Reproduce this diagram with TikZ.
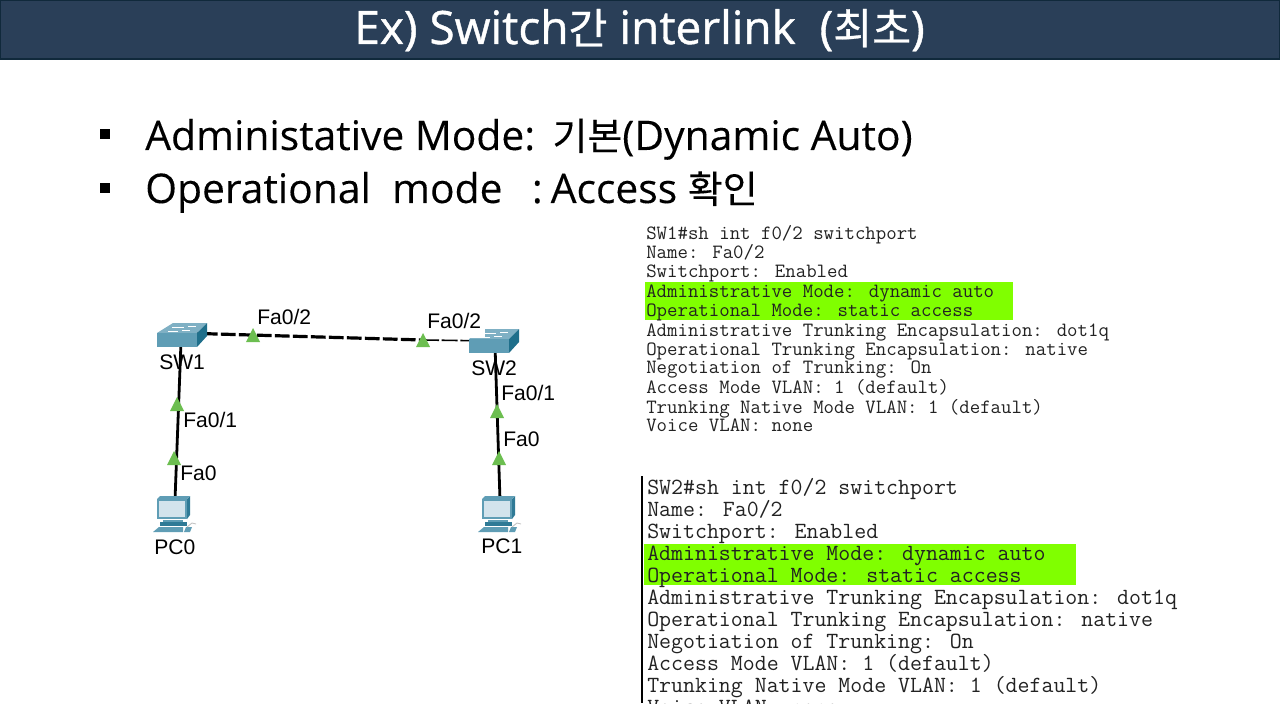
\documentclass[tikz,border=0pt]{standalone}
\usepackage{fontspec}
\setmainfont{Open Sans}
\newfontfamily\krfont[Scale=0.93,FakeBold=0.2]{Noto Sans CJK KR}
\newfontfamily\krtitle[Scale=0.92,FakeBold=0.6]{Noto Sans CJK KR}
\newfontfamily\headfont[FakeBold=0.15]{Open Sans}
\newfontfamily\titlefont[FakeBold=0.9]{Open Sans}
\newfontfamily\labelfont{Liberation Sans}
\definecolor{barblue}{HTML}{2A3F58}
\definecolor{barline}{HTML}{10293B}
\definecolor{hilite}{HTML}{80FF00}
\definecolor{porttri}{HTML}{6CBE50}
\definecolor{swtop}{HTML}{7FB0C4}
\definecolor{swfront}{HTML}{5F9DB5}
\definecolor{swside}{HTML}{1F6F8B}
\definecolor{pcbody}{HTML}{5F9DB5}
\definecolor{pcdark}{HTML}{2F7A96}
\definecolor{pcscreen}{HTML}{D3E3EC}
\definecolor{monotext}{HTML}{222222}
\tikzset{
  x=0.75pt,y=-0.75pt,
  port/.style={fill=porttri,draw=none},
  portlabel/.style={anchor=base west,inner sep=0pt,font=\labelfont\fontsize{15.8}{15.8}\selectfont,text=black},
  anchorbox/.style={inner sep=0pt,minimum width=4pt,minimum height=4pt},
  cable/.style={black,line width=2.1pt},
  monoa/.style={anchor=base west,inner sep=0pt,font=\ttfamily\fontsize{15.2}{15.2}\selectfont,text=monotext},
  monob/.style={anchor=base west,inner sep=0pt,font=\ttfamily\fontsize{17.4}{17.4}\selectfont,text=monotext},
  bullettext/.style={anchor=base west,inner sep=0pt,font=\headfont\fontsize{30.6}{30.6}\selectfont,text=black},
}
\newcommand{\porttri}[2]{\fill[port] (#1-7,#2+6) -- (#1,#2-8) -- (#1+7,#2+6) -- cycle;}
\newcommand{\swicon}[2]{%
  \fill[swtop] (#1-25,#2-3) -- (#1-9,#2-13) -- (#1+25,#2-13) -- (#1+15,#2-3) -- cycle;
  \fill[swfront] (#1-25,#2-3) rectangle (#1+15,#2+11);
  \fill[swside] (#1+15,#2-3) -- (#1+25,#2-13) -- (#1+25,#2+0) -- (#1+15,#2+11) -- cycle;
  \draw[white,line width=0.5pt] (#1-10,#2-9) -- (#1+2,#2-9) (#1+6,#2-10) -- (#1+14,#2-10) (#1-14,#2-5) -- (#1-4,#2-5) (#1+0,#2-6) -- (#1+8,#2-6);
}
\newcommand{\pcicon}[2]{%
  \fill[pcdark] (#1+14,#2-15) -- (#1+17,#2-18) -- (#1+17,#2+1) -- (#1+14,#2+5) -- cycle;
  \fill[pcbody] (#1-16,#2-15) -- (#1-13,#2-18) -- (#1+17,#2-18) -- (#1+14,#2-15) -- cycle;
  \fill[pcbody] (#1-16,#2-15) rectangle (#1+14,#2+5);
  \fill[pcscreen] (#1-14,#2-13) rectangle (#1+12,#2+3);
  \fill[pcbody] (#1-10,#2+6) rectangle (#1+10,#2+8);
  \fill[pcdark] (#1-13,#2+8) rectangle (#1+14,#2+12);
  \fill[pcbody] (#1-14,#2+13) -- (#1+10,#2+13) -- (#1+10,#2+18) -- (#1-20,#2+18) -- cycle;
  \fill[pcbody] (#1+13,#2+13) -- (#1+19,#2+13) -- (#1+17,#2+18) -- (#1+11,#2+18) -- cycle;
  \draw[gray!50,line width=0.6pt] (#1+14,#2+13) -- (#1+19,#2+9) -- (#1+23,#2+10);
}
\begin{document}
\begin{tikzpicture}
\useasboundingbox (0,0) rectangle (1280,720);
\fill[white] (0,0) rectangle (1280,720);
% title bar
\draw[fill=barblue,draw=barline,line width=1pt] (0.5,0.5) rectangle (1280,59);
\node[anchor=base,inner sep=0pt,text=white,font=\titlefont\fontsize{34.5}{34.5}\selectfont] (title) at (639.5,44)
  {Ex) Switch{\krtitle 간} interlink\ \ ({\krtitle 최초})};
% bullets
\fill[black] (100,129) rectangle (110,139);
\fill[black] (100,183) rectangle (110,193);
\node[bullettext] (b1) at (145,150) {Administative Mode:\hspace{13pt}{\krfont 기본}(Dynamic Auto)};
\node[bullettext] (b2) at (145,203) {Operational\ \ mode\hspace{22pt}:\hspace{6pt}Access {\krfont 확인}};
% topology anchors
\node[anchorbox] (sw1) at (182,333) {};
\node[anchorbox] (sw2) at (495,341) {};
\node[anchorbox] (pc0) at (175,514) {};
\node[anchorbox] (pc1) at (499,514) {};
\coordinate (sw1p) at (181,342);
\coordinate (sw2p) at (495,345);
\coordinate (pc0p) at (175,500);
\coordinate (pc1p) at (500,500);
\coordinate (mid) at (423,340);
% cables
\draw[cable] (sw1p) -- (pc0p);
\draw[cable] (sw2p) -- (pc1p);
\draw[black,line width=2.4pt,dash pattern=on 11pt off 2.5pt] (sw1) -- (mid);
\draw[black,line width=1.2pt,dash pattern=on 12pt off 2pt] (mid) -- (sw2);
% icons
\swicon{182}{336}
\swicon{494}{342}
\fill[white] (440,312) rectangle (485,338);
\pcicon{173}{514}
\pcicon{498}{514}
% port triangles
\porttri{253}{336}
\porttri{423}{341}
\porttri{177}{405}
\porttri{174}{459}
\porttri{497}{412}
\porttri{499}{459}
% labels
\node[portlabel] (l1) at (159,369) {SW1};
\node[portlabel] (l2) at (471,375) {SW2};
\node[portlabel] (l3) at (154,554) {PC0};
\node[portlabel] (l4) at (481,553) {PC1};
\node[portlabel] (l5) at (257,324) {Fa0/2};
\node[portlabel] (l6) at (427,328) {Fa0/2};
\node[portlabel] (l7) at (183,427) {Fa0/1};
\node[portlabel] (l8) at (180,480) {Fa0};
\node[portlabel] (l9) at (501,400) {Fa0/1};
\node[portlabel] (l10) at (503,446) {Fa0};
% first CLI block
\fill[hilite] (645,282) rectangle (1013,320);
\node[monoa] (a1) at (646,239.5) {SW1\#sh int f0/2 switchport};
\node[monoa] (a2) at (646,258.5) {Name: Fa0/2};
\node[monoa] (a3) at (646,277.5) {Switchport: Enabled};
\node[monoa] (a4) at (646,297) {Administrative Mode: dynamic auto};
\node[monoa] (a5) at (646,316.5) {Operational Mode: static access};
\node[monoa] (a6) at (646,336) {Administrative Trunking Encapsulation: dot1q};
\node[monoa] (a7) at (646,355) {Operational Trunking Encapsulation: native};
\node[monoa] (a8) at (646,373.5) {Negotiation of Trunking: On};
\node[monoa] (a9) at (646,393.5) {Access Mode VLAN: 1 (default)};
\node[monoa] (a10) at (646,413) {Trunking Native Mode VLAN: 1 (default)};
\node[monoa] (a11) at (646,431.5) {Voice VLAN: none};
% second CLI block
\fill[hilite] (644,544) rectangle (1076,585);
\draw[black,line width=1.2pt] (642,476) -- (642,703);
\begin{scope}
\clip (643,470) rectangle (1280,703);
\node[monob] (c1) at (647,494.5) {SW2\#sh int f0/2 switchport};
\node[monob] (c2) at (647,516.5) {Name: Fa0/2};
\node[monob] (c3) at (647,538.5) {Switchport: Enabled};
\node[monob] (c4) at (647,560.5) {Administrative Mode: dynamic auto};
\node[monob] (c5) at (647,582.5) {Operational Mode: static access};
\node[monob] (c6) at (647,604.5) {Administrative Trunking Encapsulation: dot1q};
\node[monob] (c7) at (647,626.5) {Operational Trunking Encapsulation: native};
\node[monob] (c8) at (647,648.5) {Negotiation of Trunking: On};
\node[monob] (c9) at (647,670.5) {Access Mode VLAN: 1 (default)};
\node[monob] (c10) at (647,692.5) {Trunking Native Mode VLAN: 1 (default)};
\node[monob] (c11) at (647,714.5) {Voice VLAN: none};
\end{scope}
\end{tikzpicture}
\end{document}
